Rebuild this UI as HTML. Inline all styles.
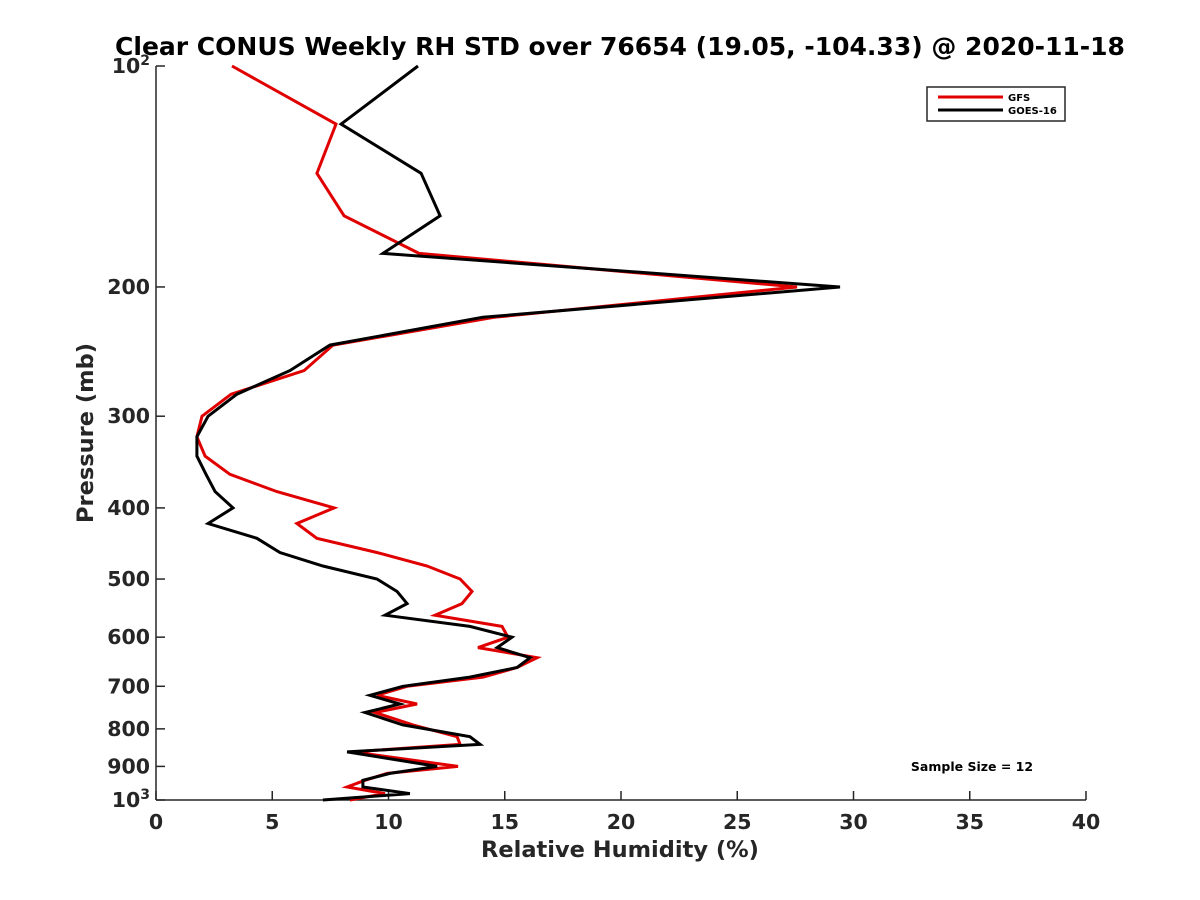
<!DOCTYPE html>
<html><head><meta charset="utf-8"><style>
body{margin:0;background:#fff;}
svg{display:block;font-family:"DejaVu Sans","Liberation Sans",sans-serif;}
</style></head><body>
<svg id="chart" width="1200" height="900">
<rect width="1200" height="900" fill="#fff"/>
<text x="620" y="55" text-anchor="middle" font-size="25" font-weight="bold" fill="#000">Clear CONUS Weekly RH STD over 76654 (19.05, -104.33) @ 2020-11-18</text>
<g id="axes"></g>
<g id="series"></g>
<g>
<rect x="927" y="87" width="138" height="34" fill="#fff" stroke="#262626" stroke-width="1.5"/>
<line x1="938" y1="97" x2="1003" y2="97" stroke="#e00000" stroke-width="3"/>
<text x="1008" y="101" font-size="10" font-weight="bold" fill="#000">GFS</text>
<line x1="938" y1="110" x2="1003" y2="110" stroke="#000" stroke-width="3"/>
<text x="1008" y="114" font-size="10" font-weight="bold" fill="#000">GOES-16</text>
</g>
<text x="972" y="771" text-anchor="middle" font-size="12.5" font-weight="bold" fill="#000">Sample Size = 12</text>
<text x="620" y="857" text-anchor="middle" font-size="22.5" font-weight="bold" fill="#262626">Relative Humidity (%)</text>
<text transform="translate(93,433) rotate(-90)" text-anchor="middle" font-size="22.5" font-weight="bold" fill="#262626">Pressure (mb)</text>
</svg>
<script>
const pressureLevels = [100,120,140,160,180,200,220,240,260,280,300,320,340,360,380,400,420,440,460,480,500,520,540,560,580,600,620,640,660,680,700,720,740,760,790,820,840,860,900,920,940,960,980,1000];
const gfsValues = [3.27,7.74,6.92,8.09,11.31,27.57,14.54,7.61,6.37,3.23,1.98,1.76,2.11,3.18,5.2,7.66,6.06,6.92,9.5,11.66,13.08,13.59,13.16,12.0,14.88,15.14,13.85,16.39,15.53,14.06,10.8,9.5,11.23,9.42,11.05,12.95,13.08,8.47,12.99,9.94,8.99,8.22,9.85,8.34];
const goesValues = [11.27,7.96,11.4,12.22,9.76,29.42,14.06,7.48,5.76,3.48,2.24,1.76,1.76,2.15,2.54,3.31,2.24,4.34,5.33,7.18,9.5,10.37,10.8,9.85,13.5,15.31,14.67,16.09,15.53,13.5,10.62,9.2,10.49,8.99,10.62,13.5,13.94,8.22,12.09,10.06,8.9,8.9,10.92,7.18];
const xTicks = [0,5,10,15,20,25,30,35,40];
const yTicks = [100,200,300,400,500,600,700,800,900,1000];
const yTickLabels = ["10^2","200","300","400","500","600","700","800","900","10^3"];

const L=156,R=1086,T=66,B=800;
const xs = v => L + (v-0)/(40-0)*(R-L);
const ys = p => T + Math.log10(p/100)*(B-T);
const NS="http://www.w3.org/2000/svg";
const axes=document.getElementById('axes');
function mk(tag,attrs,parent){const e=document.createElementNS(NS,tag);for(const k in attrs)e.setAttribute(k,attrs[k]);parent.appendChild(e);return e;}
const xl=mk('line',{x1:L,y1:B,x2:R,y2:B,stroke:'#262626','stroke-width':1.5},axes);


const yl=mk('line',{x1:L,y1:T,x2:L,y2:B,stroke:'#262626','stroke-width':1.5},axes);


xTicks.forEach(v=>{
  const t=mk('line',{x1:xs(v),y1:B,x2:xs(v),y2:B-9,stroke:'#262626','stroke-width':1.5},axes);
  
  
  const lb=mk('text',{x:xs(v),y:B+29,'text-anchor':'middle','font-size':20.5,'font-weight':'bold',fill:'#262626'},axes);
  lb.textContent=v;
  
  
});
yTicks.forEach((p,i)=>{
  const t=mk('line',{x1:L,y1:ys(p),x2:L+9,y2:ys(p),stroke:'#262626','stroke-width':1.5},axes);
  
  
  const lb=mk('text',{x:L-6,y:ys(p)+7,'text-anchor':'end','font-size':20.5,'font-weight':'bold',fill:'#262626'},axes);
  const parts=yTickLabels[i].split('^');
  if(parts.length>1){
    const a=mk('tspan',{},lb);a.textContent=parts[0];
    const b=mk('tspan',{'font-size':14,dy:-8},lb);b.textContent=parts[1];
  } else lb.textContent=parts[0];
  
  
});
const ser=document.getElementById('series');
function drawLine(vals,color,name){
  const d=vals.map((v,i)=>(i?'L':'M')+xs(v).toFixed(1)+','+ys(pressureLevels[i]).toFixed(1)).join(' ');
  const p=mk('path',{d:d,fill:'none',stroke:color,'stroke-width':3,'stroke-linejoin':'miter'},ser);
  
  
}
drawLine(gfsValues,'#e00000','gfs-line');
drawLine(goesValues,'#000000','goes16-line');
</script>
</body></html>
